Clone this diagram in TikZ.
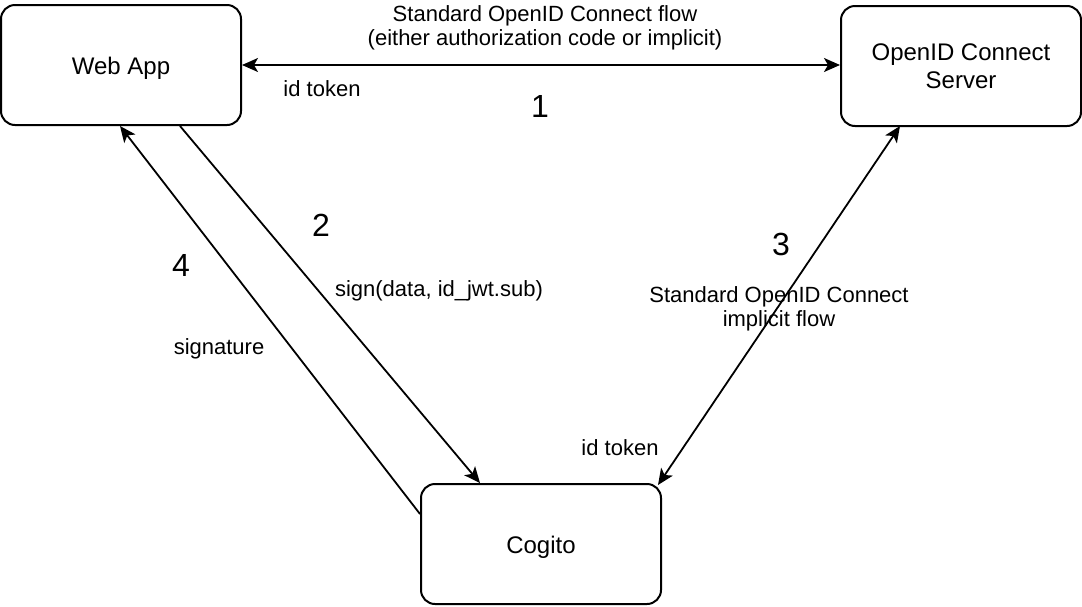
\documentclass[tikz,border=0pt]{standalone}
\usepackage{fontspec}
\setmainfont{Liberation Sans}
\usetikzlibrary{arrows.meta,calc}
\begin{document}
\begin{tikzpicture}[x=1pt,y=-1pt,
  box/.style={draw,line width=2pt,rounded corners=14pt,minimum width=240pt,minimum height=120pt,align=center,font=\fontsize{24}{28}\selectfont,inner sep=0pt},
  oneline/.style={text height=21pt,text depth=3pt},
  lbl/.style={align=center,font=\fontsize{22}{24.5}\selectfont,inner sep=0pt},
  num/.style={font=\fontsize{32}{36}\selectfont,inner sep=0pt},
  tip/.tip={Stealth[length=16pt,width=14pt,inset=4pt]},
  conn/.style={line width=1.8pt,-tip},
  conn2/.style={line width=1.8pt,tip-tip}
]
\useasboundingbox (0,0) rectangle (1082,606);

\node[box,oneline] (web) at (121,65) {Web App};
\node[box] (oidc) at (961,66) {OpenID Connect\\Server};
\node[box,oneline] (cog) at (541,544) {Cogito};

\draw[conn2] (web.east) -- (oidc.west |- web.east);
\draw[conn] ($(web.south west)+(180,0)$) -- ($(cog.north west)+(60,0)$);
\draw[conn] ($(cog.west)+(0,-30)$) -- ($(web.south west)+(120,0)$);
\draw[conn2] ($(oidc.south west)+(60,-1)$) -- ($(cog.north east)+(-4,2)$);

\node[lbl] (l1) at (545,28) {Standard OpenID Connect flow\\(either authorization code or implicit)};
\node[lbl] (l2) at (322,89) {id token};
\node[num] (n1) at (540,106) {1};
\node[num] (n2) at (321,225) {2};
\node[num] (n4) at (181,265) {4};
\node[num] (n3) at (781,244) {3};
\node[lbl] (l3) at (439,291) {sign(data, id\_jwt.sub)};
\node[lbl] (l4) at (219,349) {signature};
\node[lbl] (l5) at (779,309) {Standard OpenID Connect\\implicit flow};
\node[lbl] (l6) at (620,448) {id token};
\end{tikzpicture}
\end{document}
